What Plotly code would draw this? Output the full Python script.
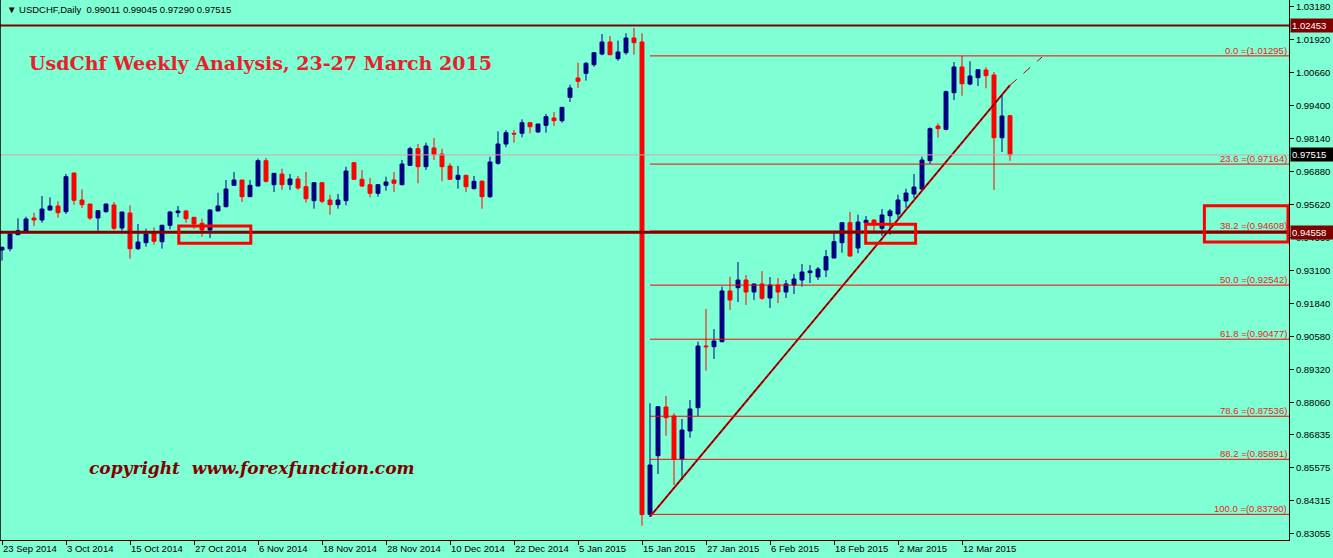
import plotly.graph_objects as go
import pandas as pd

# ---------------- data ----------------
holidays = ["12-25", "01-01"]
dates = [d for d in pd.bdate_range("2014-09-23", "2015-03-20") if d.strftime("%m-%d") not in holidays]
date_keys = [d.strftime("%Y-%m-%d") for d in dates]

opens = [0.93884, 0.93933, 0.94468, 0.94571, 0.95105, 0.95029, 0.95411, 0.95564, 0.95346, 0.96823,
         0.95793, 0.95640, 0.95105, 0.95346, 0.95602, 0.94723, 0.95296, 0.93933, 0.94162, 0.94544,
         0.94200, 0.94826, 0.95308, 0.95373, 0.95132, 0.94903, 0.94647, 0.95373, 0.95537, 0.96354,
         0.96556, 0.95919, 0.96327, 0.97293, 0.96377, 0.96785, 0.96377, 0.96594, 0.96300, 0.95766,
         0.96453, 0.95793, 0.95613, 0.95766, 0.97217, 0.96583, 0.96377, 0.96048, 0.96354, 0.96556,
         0.96377, 0.97117, 0.97751, 0.97064, 0.97778, 0.97549, 0.97091, 0.96583, 0.96736, 0.96224,
         0.96507, 0.95919, 0.97194, 0.97931, 0.98339, 0.98339, 0.98744, 0.98389, 0.98645, 0.98923,
         0.98820, 0.99714, 1.00451, 1.00630, 1.00959, 1.01367, 1.01825, 1.01188, 1.01417, 1.01978,
         1.01825, 0.83790, 0.86029, 0.87889, 0.87545, 0.85892, 0.86973, 0.87862, 0.90218, 0.90191,
         0.90382, 0.92318, 0.92444, 0.92738, 0.92280, 0.92585, 0.92051, 0.92547, 0.92280, 0.92547,
         0.92738, 0.93017, 0.92853, 0.93120, 0.93578, 0.94162, 0.94926, 0.93960, 0.94926, 0.95029,
         0.94712, 0.95193, 0.95258, 0.95754, 0.96022, 0.96213, 0.97293, 0.98618, 0.98492, 0.99889,
         1.00871, 1.00222, 1.00462, 1.00756, 1.00565, 0.98171, 0.99011]
highs = [0.94009, 0.94521, 0.95094, 0.95155, 0.95308, 0.95945, 0.95896, 0.95743, 0.96785, 0.96830,
         0.96201, 0.95645, 0.95390, 0.95645, 0.95716, 0.95340, 0.95590, 0.94876, 0.94697, 0.94750,
         0.94849, 0.95373, 0.95564, 0.95411, 0.95140, 0.95079, 0.95438, 0.96071, 0.96556, 0.96862,
         0.96560, 0.96556, 0.97370, 0.97396, 0.96815, 0.96988, 0.96785, 0.96709, 0.96862, 0.96460,
         0.96480, 0.95995, 0.96022, 0.97064, 0.97243, 0.96938, 0.96633, 0.96403, 0.96682, 0.96862,
         0.97320, 0.97828, 0.97931, 0.97980, 0.98160, 0.97751, 0.97194, 0.97091, 0.96740, 0.96709,
         0.96556, 0.97446, 0.98416, 0.98465, 0.98465, 0.98874, 0.98771, 0.98700, 0.99076, 0.99153,
         0.99340, 1.00195, 1.01035, 1.01062, 1.01420, 1.02131, 1.02055, 1.01875, 1.02158, 1.02360,
         1.02158, 0.88030, 0.87927, 0.88309, 0.87649, 0.87431, 0.88157, 0.90382, 0.91631, 0.90867,
         0.92482, 0.92864, 0.93425, 0.92929, 0.92590, 0.93082, 0.92853, 0.92815, 0.92738, 0.92967,
         0.93349, 0.93311, 0.93234, 0.93884, 0.94521, 0.94930, 0.95334, 0.95231, 0.95182, 0.95056,
         0.95449, 0.95449, 0.95995, 0.96224, 0.96785, 0.97446, 0.98568, 0.98721, 0.99966, 1.01062,
         1.01295, 1.01088, 1.00770, 1.00859, 1.00680, 0.99802, 0.99045]
lows = [0.93475, 0.93834, 0.94450, 0.94544, 0.94800, 0.94926, 0.95384, 0.95117, 0.95258, 0.95613,
        0.95487, 0.95029, 0.94620, 0.95308, 0.94647, 0.94620, 0.93551, 0.93884, 0.94009, 0.94086,
        0.93933, 0.94674, 0.95132, 0.94926, 0.94697, 0.94391, 0.94342, 0.95373, 0.95514, 0.96350,
        0.95716, 0.95915, 0.96320, 0.96453, 0.96098, 0.96175, 0.96175, 0.96175, 0.95689, 0.95460,
        0.95666, 0.95231, 0.95460, 0.95590, 0.96556, 0.96300, 0.95896, 0.95919, 0.96148, 0.96098,
        0.96354, 0.97091, 0.96430, 0.96938, 0.97320, 0.96507, 0.96556, 0.96224, 0.96098, 0.96201,
        0.95460, 0.95869, 0.97140, 0.97805, 0.97980, 0.98187, 0.98339, 0.98362, 0.98362, 0.98618,
        0.98744, 0.99534, 1.00069, 1.00348, 1.00882, 1.01318, 1.01318, 1.01111, 1.01340, 1.01340,
        0.83357, 0.83700, 0.85331, 0.86793, 0.84911, 0.85102, 0.86717, 0.87545, 0.89275, 0.89722,
        0.90359, 0.91593, 0.91898, 0.91784, 0.91975, 0.91975, 0.91669, 0.91860, 0.92051, 0.92204,
        0.92482, 0.92623, 0.92738, 0.92853, 0.93566, 0.93780, 0.93628, 0.93757, 0.94920, 0.94620,
        0.94418, 0.94468, 0.95094, 0.95498, 0.95869, 0.96186, 0.97167, 0.98171, 0.98454, 0.99611,
        0.99775, 1.00172, 1.00145, 1.00057, 0.96175, 0.97625, 0.97290]
closes = [0.93986, 0.94494, 0.94620, 0.95067, 0.95029, 0.95449, 0.95564, 0.95308, 0.96682, 0.95781,
          0.95613, 0.95105, 0.95384, 0.95640, 0.94712, 0.95334, 0.93933, 0.94189, 0.94494, 0.94216,
          0.94826, 0.95334, 0.95373, 0.95079, 0.94876, 0.94647, 0.95411, 0.95564, 0.96213, 0.96556,
          0.95919, 0.96354, 0.97293, 0.96507, 0.96812, 0.96377, 0.96594, 0.96251, 0.95842, 0.96453,
          0.95743, 0.95613, 0.95793, 0.96900, 0.96583, 0.96327, 0.96048, 0.96377, 0.96480, 0.96430,
          0.97167, 0.97751, 0.97064, 0.97854, 0.97522, 0.97064, 0.96583, 0.96736, 0.96300, 0.96507,
          0.95919, 0.97243, 0.97931, 0.98362, 0.98313, 0.98744, 0.98591, 0.98694, 0.98973, 0.98820,
          0.99332, 1.00069, 1.00325, 1.01012, 1.01417, 1.01825, 1.01340, 1.01444, 1.01978, 1.01799,
          0.83780, 0.85674, 0.87900, 0.87480, 0.85892, 0.87011, 0.87813, 0.90218, 0.90191, 0.90409,
          0.92318, 0.91975, 0.92738, 0.92280, 0.92585, 0.92039, 0.92547, 0.92280, 0.92585, 0.92776,
          0.93044, 0.93082, 0.93158, 0.93628, 0.94200, 0.94926, 0.93654, 0.94953, 0.95018, 0.94876,
          0.95220, 0.95373, 0.95793, 0.96060, 0.96289, 0.97320, 0.98515, 0.98515, 0.99928, 1.00871,
          1.00233, 1.00527, 1.00768, 1.00539, 0.98171, 0.99000, 0.97515]

x_tick_dates = ["2014-09-23", "2014-10-03", "2014-10-15", "2014-10-27", "2014-11-06", "2014-11-18",
                "2014-11-28", "2014-12-10", "2014-12-22", "2015-01-05", "2015-01-15", "2015-01-27",
                "2015-02-06", "2015-02-18", "2015-03-02", "2015-03-12"]
x_tick_labels = ["23 Sep 2014", "3 Oct 2014", "15 Oct 2014", "27 Oct 2014", "6 Nov 2014", "18 Nov 2014",
                 "28 Nov 2014", "10 Dec 2014", "22 Dec 2014", "5 Jan 2015", "15 Jan 2015", "27 Jan 2015",
                 "6 Feb 2015", "18 Feb 2015", "2 Mar 2015", "12 Mar 2015"]
y_tick_values = [1.03180, 1.01920, 1.00660, 0.99400, 0.98140, 0.96880, 0.95620, 0.94360, 0.93100,
                 0.91840, 0.90580, 0.89320, 0.88060, 0.86835, 0.85575, 0.84315, 0.83055]

fib_pcts = ["0.0", "23.6", "38.2", "50.0", "61.8", "78.6", "88.2", "100.0"]
fib_levels = [1.01295, 0.97164, 0.94608, 0.92542, 0.90477, 0.87536, 0.85891, 0.83790]
fib_start_date = "2015-01-16"

resistance_level = 1.02453
support_level = 0.94558
last_price = 0.97515

trend_dates = ["2015-01-16", "2015-03-20"]
trend_prices = [0.83700, 1.00175]
trend_ext_bars = 4          # ray extends 4 bars beyond the last bar
trend_ext_price = 1.01250

# boxes: (bar index start, bar index end, low, high)
boxes = [(22.1, 31.1, 0.94139, 0.94800),
         (107.96, 114.2, 0.94139, 0.94865),
         (150.3, 160.75, 0.94189, 0.95575)]

header_text = "USDCHF,Daily\u00a0\u00a0%.5f %.5f %.5f %.5f" % (opens[-1], highs[-1], lows[-1], closes[-1])
title_text = "UsdChf Weekly Analysis, 23-27 March 2015"
copyright_text = "copyright\u00a0\u00a0www.forexfunction.com"

# ---------------- figure ----------------
xi = list(range(len(date_keys)))
idx = {k: i for i, k in enumerate(date_keys)}
BG = "#7FFFD4"
MAROON = "#800000"
RED = "#FF0000"
FONT = "Liberation Sans"

fig = go.Figure()

fig.add_trace(go.Candlestick(
    x=xi, open=opens, high=highs, low=lows, close=closes,
    increasing=dict(line=dict(color="#000080", width=1), fillcolor="#000080"),
    decreasing=dict(line=dict(color=RED, width=1), fillcolor=RED),
    whiskerwidth=0, hoverinfo="skip", showlegend=False))

# trend line
t0, t1 = idx[trend_dates[0]], idx[trend_dates[1]]
fig.add_trace(go.Scatter(x=[t0, t1], y=trend_prices, mode="lines",
                         line=dict(color="#C00000", width=2), hoverinfo="skip", showlegend=False))
fig.add_trace(go.Scatter(x=[t0, t1], y=trend_prices, mode="lines",
                         line=dict(color="#300000", width=1, dash="dot"), hoverinfo="skip", showlegend=False))
fig.add_trace(go.Scatter(x=[t1, t1 + trend_ext_bars], y=[trend_prices[1], trend_ext_price], mode="lines",
                         line=dict(color="#C00000", width=1, dash="dash"), hoverinfo="skip", showlegend=False))

shapes = []
annotations = []
fs = idx[fib_start_date]
for pct, lv in zip(fib_pcts, fib_levels):
    shapes.append(dict(type="line", xref="x", yref="y", x0=fs, x1=200, y0=lv, y1=lv,
                       line=dict(color=RED, width=1)))
    annotations.append(dict(xref="paper", yref="y", x=0.9995, y=lv, xanchor="right", yanchor="bottom",
                            text="%s =(%.5f)" % (pct, lv), showarrow=False, borderpad=0, yshift=-1,
                            font=dict(family=FONT, size=9.5, color="#F02020")))

shapes.append(dict(type="line", xref="paper", yref="y", x0=0, x1=1, y0=last_price, y1=last_price,
                   line=dict(color="#D9A3B3", width=1)))
shapes.append(dict(type="line", xref="paper", yref="y", x0=0, x1=1, y0=resistance_level, y1=resistance_level,
                   line=dict(color=MAROON, width=2)))
shapes.append(dict(type="line", xref="paper", yref="y", x0=0, x1=1, y0=support_level, y1=support_level,
                   line=dict(color=MAROON, width=3)))
for b in boxes:
    shapes.append(dict(type="rect", xref="x", yref="y", x0=b[0], x1=b[1], y0=b[2], y1=b[3],
                       line=dict(color=RED, width=3), fillcolor="rgba(0,0,0,0)"))
# left frame
shapes.append(dict(type="line", xref="paper", yref="paper", x0=0, x1=0, y0=0, y1=1,
                   line=dict(color="black", width=1.5)))

# price tags on axis
for val, bg in [(resistance_level, MAROON), (support_level, MAROON), (last_price, "black")]:
    annotations.append(dict(xref="paper", yref="y", x=1, y=val, xanchor="left", yanchor="middle",
                            xshift=1, text="%.5f" % val, showarrow=False, bgcolor=bg, width=42,
                            align="left", borderpad=1,
                            font=dict(family=FONT, size=9.5, color="white")))

annotations.append(dict(xref="paper", yref="paper", x=0.0035, y=1 - 9 / 540, xanchor="left", yanchor="middle",
                        text="\u25BC\u00a0" + header_text, showarrow=False,
                        font=dict(family=FONT, size=9.5, color="black")))
annotations.append(dict(xref="paper", yref="paper", x=27 / 1289, y=1 - 63 / 540, xanchor="left", yanchor="middle",
                        text="<b>" + title_text + "</b>", showarrow=False,
                        font=dict(family="DejaVu Serif", size=19, color="#E8202A")))
annotations.append(dict(xref="paper", yref="paper", x=87 / 1289, y=1 - 468 / 540, xanchor="left", yanchor="middle",
                        text="<b><i>" + copyright_text + "</i></b>", showarrow=False,
                        font=dict(family="DejaVu Serif", size=17, color="#800000")))

fig.update_layout(
    width=1333, height=558,
    margin=dict(l=0, r=44, t=0, b=18, pad=0),
    paper_bgcolor=BG, plot_bgcolor=BG,
    showlegend=False,
    font=dict(family=FONT, size=9.5, color="black"),
    shapes=shapes, annotations=annotations,
    xaxis=dict(range=[-0.25, 160.875], showgrid=False, zeroline=False,
               showline=True, linecolor="black", linewidth=1,
               ticks="outside", ticklen=4, tickcolor="black",
               tickvals=[idx[d] for d in x_tick_dates], ticktext=x_tick_labels,
               ticklabelposition="outside right",
               rangeslider=dict(visible=False), fixedrange=True),
    yaxis=dict(range=[0.828105, 1.034291], side="right", showgrid=False, zeroline=False,
               showline=True, linecolor="black", linewidth=1,
               ticks="outside", ticklen=4, tickcolor="black",
               tickvals=y_tick_values, ticktext=["%.5f" % v for v in y_tick_values],
               fixedrange=True),
)

fig.write_html("out.html", config={"displayModeBar": False},
               post_script="document.body.style.margin='0';document.body.style.padding='0';"
                           "document.body.style.background='#F0F0F0';document.body.style.overflow='hidden';")
